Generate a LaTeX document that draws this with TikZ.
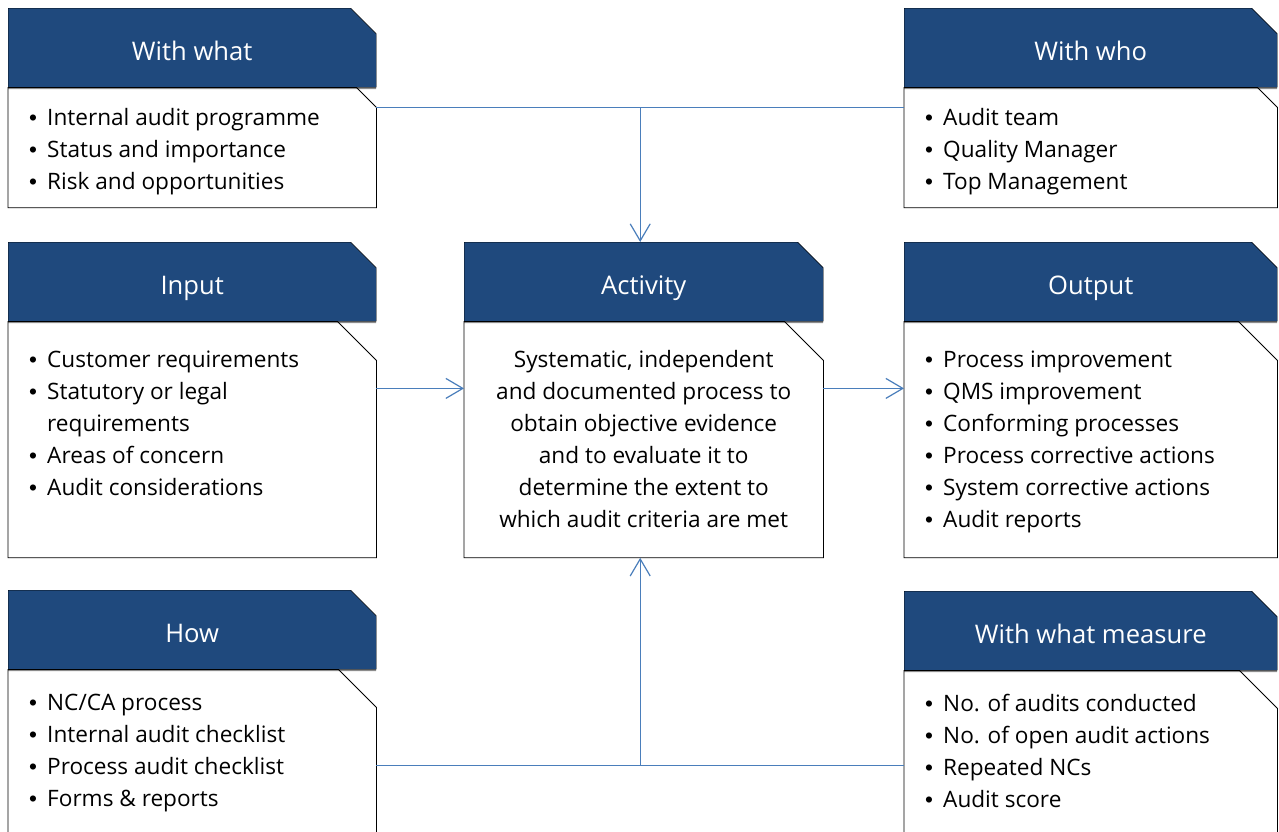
\documentclass[tikz,border=0pt]{standalone}
\usepackage{fontspec}
\setmainfont{Open Sans}
\newfontfamily\bulletfont{Liberation Sans}
\usetikzlibrary{positioning,shapes.misc,arrows.meta,shadows,calc}
\definecolor{headblue}{HTML}{1F497D}
\definecolor{linkblue}{HTML}{4A7EBB}
\newcommand{\itm}{\makebox[18pt][l]{\bulletfont •}}
\newcommand{\cont}{\makebox[18pt][l]{}}
% outline of a body box with its folded corner
\newcommand{\fold}[2]{%
  \draw[body line] (#1.north west) -- ([xshift=-#2]#1.north east)
    -- ([yshift=-#2]#1.north east) -- (#1.south east) -- (#1.south west) -- cycle;}

\begin{document}
\begin{tikzpicture}[x=1pt, y=-1pt, node distance=0pt,
    head node/.style={chamfered rectangle, chamfered rectangle corners=north east,
      chamfered rectangle xsep=13pt, chamfered rectangle ysep=13pt,
      draw=black, fill=headblue, text=white, inner sep=0pt, minimum height=79pt,
      text height=25pt, text depth=0pt, font=\fontsize{25.6}{30}\selectfont,
      drop shadow={shadow xshift=0pt, shadow yshift=-2pt, opacity=0.45, fill=black}},
    body node/.style={rectangle, inner sep=0pt},
    body line/.style={draw=black, line width=0.8pt},
    list node/.style={align=left, inner sep=0pt, font=\fontsize{22.6}{32}\selectfont},
    line/.style={draw=linkblue, line width=1.2pt},
    link/.style={line, -{Straight Barb[length=17pt,width=20pt]}}]

  \clip (0,0) rectangle (1279,831);

  % top row
  \node[head node, minimum width=368pt, anchor=north west] (whatH) at (8,8) {With what};
  \node[body node, minimum width=368pt, minimum height=120pt, below=of whatH] (whatB) {};
  \node[head node, minimum width=373pt, anchor=north west] (whoH) at (904,8) {With who};
  \node[body node, minimum width=373pt, minimum height=120pt, below=of whoH] (whoB) {};

  % middle row
  \node[head node, minimum width=368pt, anchor=north west] (inH) at (8,242) {Input};
  \node[body node, minimum width=368pt, minimum height=236pt, below=of inH] (inB) {};
  \node[head node, minimum width=359pt, anchor=north west] (actH) at (464,242) {Activity};
  \node[body node, minimum width=359pt, minimum height=236pt, below=of actH] (actB) {};
  \node[head node, minimum width=373pt, anchor=north west] (outH) at (904,242) {Output};
  \node[body node, minimum width=373pt, minimum height=236pt, below=of outH] (outB) {};

  % bottom row
  \node[head node, minimum width=368pt, anchor=north west] (howH) at (8,590) {How};
  \node[body node, minimum width=368pt, minimum height=236pt, below=of howH] (howB) {};
  \node[head node, minimum width=373pt, anchor=north west] (measH) at (904,591) {With what measure};
  \node[body node, minimum width=373pt, minimum height=236pt, below=of measH] (measB) {};

  \fold{whatB}{20pt}
  \fold{whoB}{20pt}
  \fold{inB}{39pt}
  \fold{actB}{39pt}
  \fold{outB}{39pt}
  \fold{howB}{38pt}
  \fold{measB}{38pt}

  % texts
  \node[list node, below right=15.6pt and 21pt of whatB.north west] (whatT)
    {\strut\itm Internal audit programme\\\itm Status and importance\\\itm Risk and opportunities};
  \node[list node, below right=15.6pt and 21pt of whoB.north west] (whoT)
    {\strut\itm Audit team\\\itm Quality Manager\\\itm Top Management};
  \node[list node, below right=23.6pt and 21pt of inB.north west] (inT)
    {\strut\itm Customer requirements\\\itm Statutory or legal\\\cont requirements\\\itm Areas of concern\\\itm Audit considerations};
  \node[list node, align=center, below=23.6pt of actB.north] (actT)
    {\strut Systematic, independent\\and documented process to\\obtain objective evidence\\and to evaluate it to\\determine the extent to\\which audit criteria are met};
  \node[list node, below right=23.6pt and 21pt of outB.north west] (outT)
    {\strut\itm Process improvement\\\itm QMS improvement\\\itm Conforming processes\\\itm Process corrective actions\\\itm System corrective actions\\\itm Audit reports};
  \node[list node, below right=18.6pt and 21pt of howB.north west] (howT)
    {\strut\itm NC/CA process\\\itm Internal audit checklist\\\itm Process audit checklist\\\itm Forms \& reports};
  \node[list node, below right=18.6pt and 21pt of measB.north west] (measT)
    {\strut\itm No. of audits conducted\\\itm No. of open audit actions\\\itm Repeated NCs\\\itm Audit score};

  % connectors
  \coordinate (tl) at ($(whatB.east |- whatB.north)+(0,20)$);
  \coordinate (tr) at (tl -| whoB.west);
  \coordinate (tm) at ($(tl)!0.5!(tr)$);
  \path[line] (tl) -- (tr);
  \path[link] (tm) -- (tm |- actH.north);

  \coordinate (il) at ($(inB.east |- inB.north)+(0,67)$);
  \path[link] (il) -- (il -| actB.west);
  \coordinate (ol) at ($(actB.east |- actB.north)+(0,67)$);
  \path[link] (ol) -- (ol -| outB.west);

  \coordinate (bl) at ($(howB.east |- howB.north)+(0,96)$);
  \coordinate (br) at (bl -| measB.west);
  \coordinate (bm) at ($(bl)!0.5!(br)$);
  \path[line] (bl) -- (br);
  \path[link] (bm) -- (bm |- actB.south);

\end{tikzpicture}
\end{document}
